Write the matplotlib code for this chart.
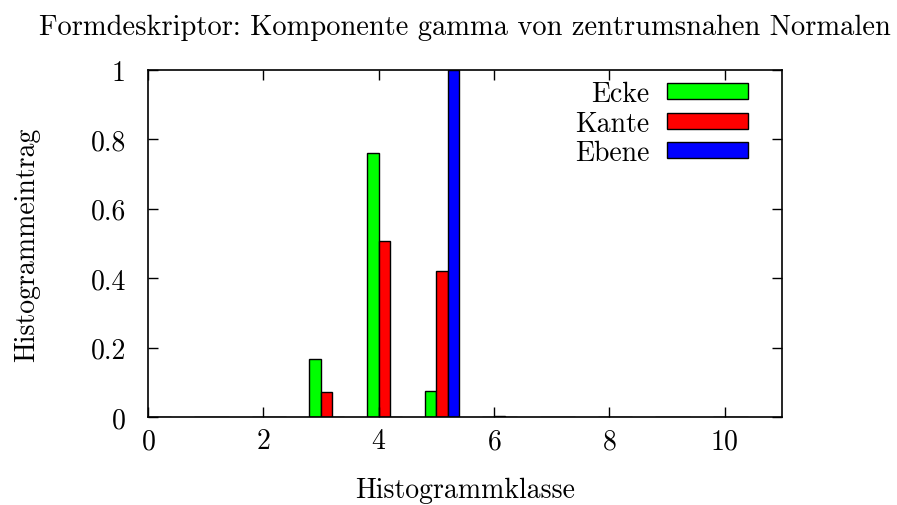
import matplotlib
matplotlib.use("Agg")
import matplotlib.pyplot as plt
from matplotlib.ticker import FuncFormatter, MultipleLocator
import numpy as np

plt.rcParams['font.family'] = ['cmr10', 'DejaVu Serif']
plt.rcParams['mathtext.fontset'] = 'cm'
plt.rcParams['axes.formatter.use_mathtext'] = True

# histogram classes and normalised entries per surface type
klassen = np.array([0, 1, 2, 3, 4, 5, 6, 7, 8, 9, 10])
ecke = [0, 0, 0, 0.167, 0.761, 0.074, 0, 0, 0, 0, 0]
kante = [0, 0, 0, 0.071, 0.506, 0.421, 0.004, 0, 0, 0, 0]
ebene = [0, 0, 0, 0, 0.001, 1.0, 0.001, 0, 0, 0, 0]

serien = [("Ecke", ecke, "#00ff00"), ("Kante", kante, "#ff0000"), ("Ebene", ebene, "#0000ff")]
breite = 0.2

fig = plt.figure(figsize=(8.97, 5.06), dpi=100)
ax = fig.add_axes([0.165, 0.174, 0.707, 0.686])

for i, (name, werte, farbe) in enumerate(serien):
    ax.bar(klassen - 0.2 + i * breite, werte, width=breite, align='edge',
           color=farbe, edgecolor='black', linewidth=1.0, label=name)

ax.set_xlim(0, 11)
ax.set_ylim(0, 1)
ax.xaxis.set_major_locator(MultipleLocator(2))
ax.yaxis.set_major_locator(MultipleLocator(0.2))
ax.yaxis.set_major_formatter(FuncFormatter(lambda v, p: "%g" % round(v, 2)))
ax.tick_params(direction='in', top=True, right=True, length=7, width=1,
               labelsize=20)
ax.tick_params(axis='x', pad=8)
ax.tick_params(axis='y', pad=16)
for s in ax.spines.values():
    s.set_linewidth(1.2)

ax.set_xlabel("Histogrammklasse", fontsize=20, labelpad=16)
ax.set_ylabel("Histogrammeintrag", fontsize=20, labelpad=36)
ax.set_title("Formdeskriptor: Komponente gamma von zentrumsnahen Normalen",
             fontsize=20.5, pad=26)

ax.legend(loc='upper right', frameon=False, markerfirst=False, fontsize=20,
          handlelength=2.9, handleheight=0.5, labelspacing=0.12,
          handletextpad=0.65, borderaxespad=0.2, bbox_to_anchor=(0.972, 1.017))

fig.savefig("out.png", dpi=100)
